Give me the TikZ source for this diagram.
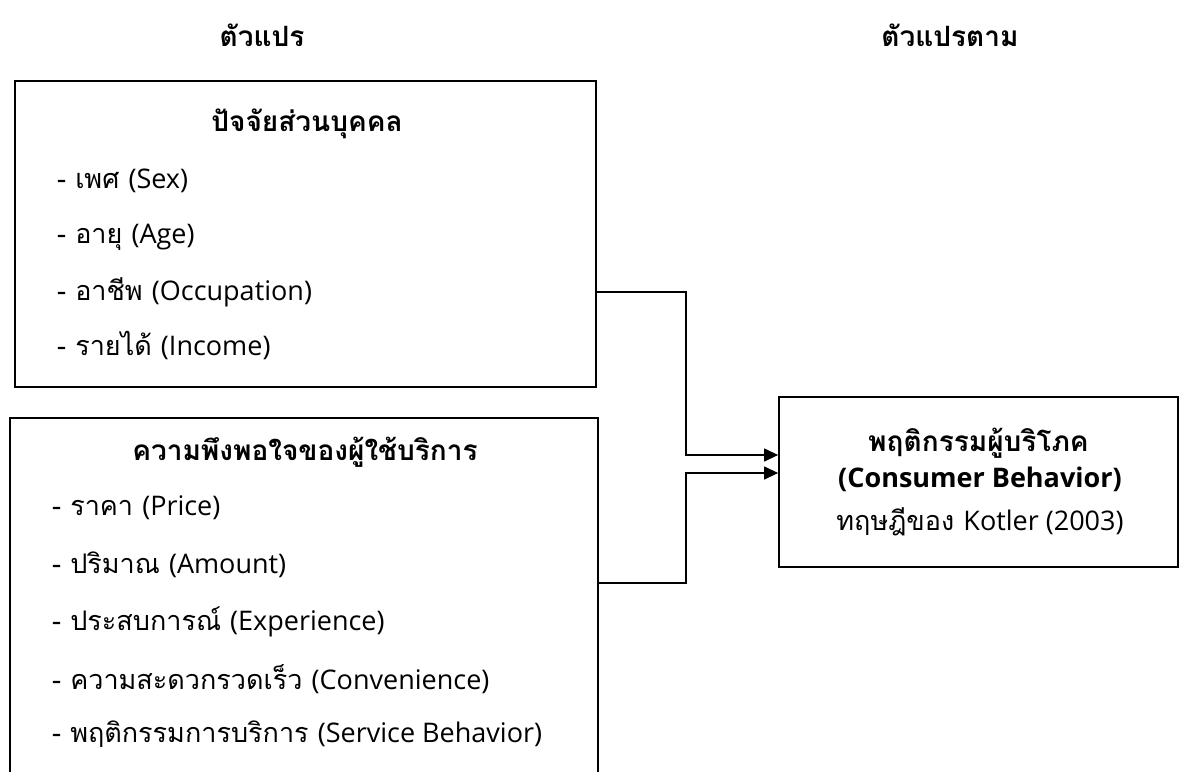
\documentclass[tikz,border=0pt]{standalone}
\usepackage{fontspec}
\setmainfont[Script=Thai]{Loma}
\newfontfamily\latf{Open Sans}
\usetikzlibrary{arrows.meta}
\newcommand{\lt}[1]{{\latf #1}}
\begin{document}
\begin{tikzpicture}[x=1pt,y=-1pt,
  boxstyle/.style={draw, line width=1.8pt, minimum width=#1, inner sep=0pt},
  ttl/.style={font=\fontsize{28}{32}\selectfont\bfseries, anchor=center},
  item/.style={font=\fontsize{27}{30}\selectfont, anchor=west, inner sep=0pt},
  conn/.style={line width=1.3pt, -{Triangle[length=14pt,width=13pt]}}]
\useasboundingbox (0,0) rectangle (1183,771);
\clip (0,0) rectangle (1183,771);
% titles
\node[ttl] (h1) at (262,35) {ตัวแปร};
\node[ttl] (h2) at (950,35) {ตัวแปรตาม};
% box 1
\node[boxstyle=581pt, minimum height=306pt] (b1) at (305.5,234) {};
\node[ttl] (t1) at (307,124) {ปัจจัยส่วนบุคคล};
\node[item] (i11) at (57,181) {- เพศ \lt{(Sex)}};
\node[item] (i12) at (57,237) {- อายุ \lt{(Age)}};
\node[item] (i13) at (57,292) {- อาชีพ \lt{(Occupation)}};
\node[item] (i14) at (57,346) {- รายได้ \lt{(Income)}};
% box 2
\node[boxstyle=588pt, minimum height=400pt] (b2) at (304,618) {};
\node[ttl] (t2) at (305,452) {ความพึงพอใจของผู้ใช้บริการ};
\node[item] (i21) at (52,508) {- ราคา \lt{(Price)}};
\node[item] (i22) at (52,565) {- ปริมาณ \lt{(Amount)}};
\node[item] (i23) at (52,622) {- ประสบการณ์ \lt{(Experience)}};
\node[item] (i24) at (52,679) {- ความสะดวกรวดเร็ว \lt{(Convenience)}};
\node[item] (i25) at (52,734) {- พฤติกรรมการบริการ \lt{(Service Behavior)}};
% box 3
\node[boxstyle=399pt, minimum height=170pt] (b3) at (978.5,482) {};
\node[ttl] (t31) at (978.5,443) {พฤติกรรมผู้บริโภค};
\node[ttl, font=\fontsize{27}{30}\selectfont\bfseries] (t32) at (980,479) {\lt{(Consumer Behavior)}};
\node[font=\fontsize{27}{30}\selectfont] (t33) at (980,522) {ทฤษฎีของ \lt{Kotler (2003)}};
% connectors
\coordinate (j1) at (686,292);
\coordinate (y1) at (0,455);
\coordinate (j2) at (686,583);
\coordinate (y2) at (0,473);
\draw[conn] (j1 -| b1.east) -- (j1) |- (b3.west |- y1);
\draw[conn] (j2 -| b2.east) -- (j2) |- (b3.west |- y2);
\end{tikzpicture}
\end{document}
